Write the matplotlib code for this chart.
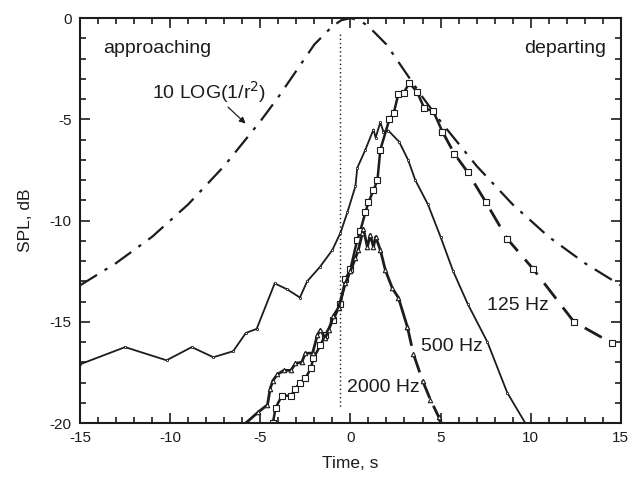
import matplotlib

matplotlib.use("Agg")
import matplotlib.pyplot as plt
from matplotlib.ticker import MultipleLocator

plt.rcParams["font.family"] = ["Liberation Sans", "DejaVu Sans"]
plt.rcParams["axes.unicode_minus"] = False

INK = "#1c1c1c"

# 10 LOG(1/r^2) geometric spreading curve
t_geo = [-15, -13, -11, -9, -7, -5, -4, -3, -2, -1, -0.5, 0, 0.5, 1, 2, 3, 4, 5, 7, 9, 11, 13, 15]
spl_geo = [-13.2, -12.1, -10.8, -9.2, -7.3, -5.1, -3.9, -2.6, -1.3, -0.4, -0.1, 0.0, -0.1,
           -0.4, -1.3, -2.6, -3.9, -5.1, -7.3, -9.2, -10.8, -12.1, -13.2]

# 500 Hz band
t_500 = [-15, -12.5, -10.2, -8.8, -7.6, -6.5, -5.8, -5.2, -4.2, -3.5, -2.8, -2.4, -1.7,
         -1.0, -0.55, -0.17, 0.28, 0.38, 0.83, 1.28, 1.4, 1.66, 1.83, 2.1, 2.7, 3.2, 3.6,
         4.3, 5.0, 5.7, 6.5, 7.6, 8.7, 9.7]
spl_500 = [-17.1, -16.25, -16.9, -16.25, -16.75, -16.45, -15.55, -15.35, -13.1, -13.4,
           -13.8, -13.0, -12.3, -11.45, -10.6, -9.6, -8.3, -7.4, -6.5, -5.5, -5.9, -5.15,
           -5.6, -5.55, -6.1, -7.0, -8.0, -9.2, -10.8, -12.5, -14.1, -16.0, -18.5, -20.0]

# 125 Hz band
t_125 = [-4.3, -4.15, -3.8, -3.3, -3.05, -2.8, -2.5, -2.2, -2.05, -1.66, -1.4, -0.94,
         -0.55, -0.28, 0.0, 0.38, 0.55, 0.83, 1.0, 1.28, 1.5, 1.66, 2.16, 2.4, 2.66, 2.95,
         3.27, 3.7, 4.1, 4.6, 5.1, 5.77, 6.5, 7.5, 8.7, 10.15, 12.4, 14.5]
spl_125 = [-20.0, -19.25, -18.65, -18.65, -18.3, -18.0, -17.8, -17.3, -16.8, -16.15,
           -15.65, -14.9, -14.1, -12.9, -12.4, -10.95, -10.5, -9.6, -9.1, -8.5, -8.0,
           -6.5, -5.0, -4.7, -3.75, -3.7, -3.2, -3.65, -4.45, -4.6, -5.6, -6.7, -7.6,
           -9.07, -10.9, -12.4, -15.0, -16.05]
split_125 = 30  # solid up to here, long dashes after

# 2000 Hz band
t_2k = [-5.8, -5.1, -4.6, -4.45, -4.3, -4.05, -3.7, -3.3, -3.05, -2.7, -2.5, -2.1, -1.83,
        -1.66, -1.4, -1.2, -0.94, -0.66, -0.28, 0.0, 0.28, 0.44, 0.67, 0.72, 0.94, 1.1,
        1.28, 1.4, 1.66, 1.94, 2.33, 2.66, 3.16, 3.5, 4.0, 4.44, 4.9, 5.0]
spl_2k = [-20.0, -19.45, -19.1, -18.3, -17.9, -17.6, -17.4, -17.4, -17.05, -17.0, -16.55,
          -16.55, -15.65, -15.4, -15.8, -15.4, -14.7, -14.3, -13.1, -12.5, -11.85, -11.45,
          -10.6, -10.4, -11.3, -10.7, -11.3, -10.8, -11.45, -12.45, -13.35, -13.8, -15.25,
          -16.6, -17.9, -18.85, -19.7, -20.0]
split_2k = 32

# moment of closest pass (dotted marker line)
t_pass = -0.6

fig = plt.figure(figsize=(6.4, 4.78), dpi=100)
ax = fig.add_axes([0.125, 0.115, 0.845, 0.847])

ax.plot(t_geo, spl_geo, color=INK, lw=1.6, dashes=(9, 4, 1.5, 4))

ax.plot(t_500, spl_500, color=INK, lw=1.3, marker="o", ms=1.6, mfc="white", mew=0.6)

ax.plot(t_125[:split_125 + 1], spl_125[:split_125 + 1], color=INK, lw=1.8,
        marker="s", ms=4.2, mfc="white", mew=0.8)
ax.plot(t_125[split_125:], spl_125[split_125:], color=INK, lw=2.0, dashes=(7, 4),
        marker="s", ms=4.2, mfc="white", mew=0.8)

ax.plot(t_2k[:split_2k + 1], spl_2k[:split_2k + 1], color=INK, lw=2.0,
        marker="^", ms=3.2, mfc="white", mew=0.8)
ax.plot(t_2k[split_2k:], spl_2k[split_2k:], color=INK, lw=2.0, dashes=(7, 3),
        marker="^", ms=3.2, mfc="white", mew=0.8)

ax.plot([t_pass, t_pass], [-0.8, -19.2], color=INK, lw=1.0, ls=(0, (1, 2)))

ax.set_xlim(-15, 15)
ax.set_ylim(-20, 0)
ax.xaxis.set_major_locator(MultipleLocator(5))
ax.xaxis.set_minor_locator(MultipleLocator(1))
ax.yaxis.set_major_locator(MultipleLocator(5))
ax.yaxis.set_minor_locator(MultipleLocator(1))
ax.tick_params(which="both", direction="in", top=True, right=True, colors=INK,
               labelsize=11, width=1.2)
ax.tick_params(which="major", length=7, pad=6)
ax.tick_params(which="minor", length=4)
for s in ax.spines.values():
    s.set_linewidth(1.5)
    s.set_color(INK)

ax.set_xlabel("Time, s", fontsize=12.5, color=INK, labelpad=8)
ax.set_ylabel("SPL, dB", fontsize=12.5, color=INK, labelpad=12)

ax.text(-13.7, -1.5, "approaching", fontsize=14, color=INK, va="center")
ax.text(14.2, -1.5, "departing", fontsize=14, color=INK, va="center", ha="right")
ax.text(-11.0, -3.65, "10 LOG(1/r$^2$)", fontsize=14, color=INK, va="center")
ax.annotate("", xy=(-5.7, -5.3), xytext=(-6.9, -4.3),
            arrowprops=dict(arrowstyle="-|>", color=INK, lw=0.9, mutation_scale=9))
ax.text(7.6, -14.2, "125 Hz", fontsize=14, color=INK, va="center")
ax.text(3.9, -16.2, "500 Hz", fontsize=14, color=INK, va="center")
ax.text(-0.2, -18.25, "2000 Hz", fontsize=14, color=INK, va="center")

fig.savefig("out.png", dpi=100)
